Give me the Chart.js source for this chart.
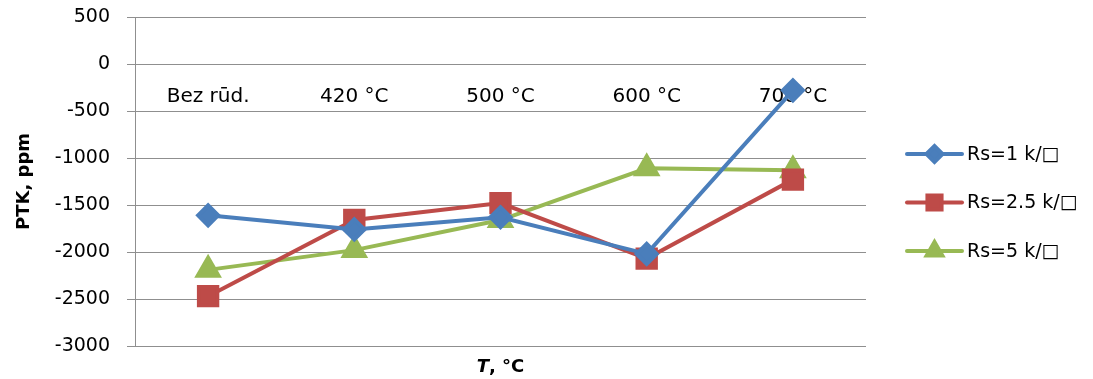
<!DOCTYPE html>
<html>
<head>
<meta charset="utf-8">
<script src="https://cdn.jsdelivr.net/npm/chart.js@4.4.0/dist/chart.umd.min.js"></script>
<style>
  html, body { margin: 0; padding: 0; background: #fff; }
  #wrap { width: 1093px; height: 379px; position: relative; }
</style>
</head>
<body>
<div id="wrap"><canvas id="myChart"></canvas></div>
<script>
// dati nolasīti no attēla
let categories = ['Bez rūd.', '420 °C', '500 °C', '600 °C', '700 °C'];
let seriesNames = ['Rs=1 k/□', 'Rs=2.5 k/□', 'Rs=5 k/□'];
let rs1 = [-1610, -1760, -1630, -2020, -280];
let rs25 = [-2470, -1660, -1480, -2070, -1230];
let rs5 = [-2190, -1980, -1660, -1110, -1130];
let yMin = -3000;
let yMax = 500;
let yStep = 500;

let fontFam = '"DejaVu Sans", "Open Sans", sans-serif';
let blue = '#4A7EBB';
let red = '#BE4B48';
let green = '#98B954';
let gridCol = '#8f8f8f';

// legenda - linija ar marķieri vidū
let legendPlugin = {
    id: 'sideLegend',
    afterDraw: function (chart) {
        let ctx = chart.ctx;
        let x0 = 907, x1 = 962, y = 154, gap = 48.5;
        chart.data.datasets.forEach(function (ds, i) {
            let yy = y + i * gap;
            ctx.save();
            ctx.strokeStyle = ds.borderColor;
            ctx.lineWidth = 4;
            ctx.lineCap = 'round';
            ctx.beginPath();
            ctx.moveTo(x0, yy);
            ctx.lineTo(x1, yy);
            ctx.stroke();
            ctx.fillStyle = ds.backgroundColor;
            ctx.strokeStyle = ds.backgroundColor;
            Chart.helpers.drawPoint(ctx, {
                pointStyle: ds.pointStyle,
                radius: ds.legendRadius,
                rotation: 0,
                borderWidth: 1
            }, (x0 + x1) / 2, yy);
            ctx.fillStyle = '#000';
            ctx.font = '19px ' + fontFam;
            ctx.textBaseline = 'middle';
            ctx.textAlign = 'left';
            ctx.fillText(ds.label, 967, yy + 1);
            ctx.restore();
        });
    }
};

// x ass nosaukums apakšā
let xTitlePlugin = {
    id: 'xTitle',
    afterDraw: function (chart) {
        let ctx = chart.ctx;
        let a = chart.chartArea;
        let cx = (a.left + a.right) / 2;
        ctx.save();
        ctx.fillStyle = '#000';
        ctx.textBaseline = 'middle';
        let f1 = 'italic bold 18px ' + fontFam;
        let f2 = 'bold 18px ' + fontFam;
        ctx.font = f1;
        let w1 = ctx.measureText('T').width;
        ctx.font = f2;
        let w2 = ctx.measureText(', °C').width;
        let sx = cx - (w1 + w2) / 2;
        ctx.font = f1;
        ctx.fillText('T', sx, 367);
        ctx.font = f2;
        ctx.fillText(', °C', sx + w1, 367);
        ctx.restore();
    }
};

let ctx = document.getElementById('myChart').getContext('2d');
let chart = new Chart(ctx, {
    type: 'line',
    data: {
        labels: categories,
        datasets: [{
            label: seriesNames[0],
            data: rs1,
            borderColor: blue,
            backgroundColor: blue,
            pointStyle: 'rectRot',
            pointRadius: 10,
            legendRadius: 8,
            borderWidth: 4
        }, {
            label: seriesNames[1],
            data: rs25,
            borderColor: red,
            backgroundColor: red,
            pointStyle: 'rect',
            pointRadius: 13,
            legendRadius: 10,
            borderWidth: 4
        }, {
            label: seriesNames[2],
            data: rs5,
            borderColor: green,
            backgroundColor: green,
            pointStyle: 'triangle',
            pointRadius: 12,
            legendRadius: 9,
            borderWidth: 4
        }]
    },
    options: {
        responsive: true,
        maintainAspectRatio: false,
        animation: false,
        layout: { padding: { top: 17, right: 227, bottom: 33, left: 0 } },
        elements: {
            line: { tension: 0 },
            point: { borderWidth: 1 }
        },
        plugins: {
            legend: { display: false },
            tooltip: { enabled: false }
        },
        scales: {
            x: {
                type: 'category',
                position: { y: 0 },
                offset: true,
                grid: { display: false, drawTicks: false },
                border: { display: false },
                ticks: {
                    color: '#000',
                    padding: 21,
                    font: { family: fontFam, size: 20 },
                    maxRotation: 0
                }
            },
            y: {
                min: yMin,
                max: yMax,
                afterFit: function (scale) {
                    scale.width = 135;
                    // tick padding nedrīkst bīdīt grafika augšu
                    scale.paddingTop = 12;
                    scale.paddingBottom = 12;
                },
                ticks: {
                    stepSize: yStep,
                    color: '#000',
                    padding: 17,
                    font: { family: fontFam, size: 19 },
                    callback: function (v) { return String(v); }
                },
                grid: { color: gridCol, lineWidth: 1, tickLength: 8 },
                border: { color: gridCol, width: 1 },
                title: {
                    display: true,
                    text: 'PTK, ppm',
                    color: '#000',
                    padding: { top: 14, bottom: 0 },
                    font: { family: fontFam, size: 18, weight: 'bold' }
                }
            }
        }
    },
    plugins: [legendPlugin, xTitlePlugin]
});
</script>
</body>
</html>
